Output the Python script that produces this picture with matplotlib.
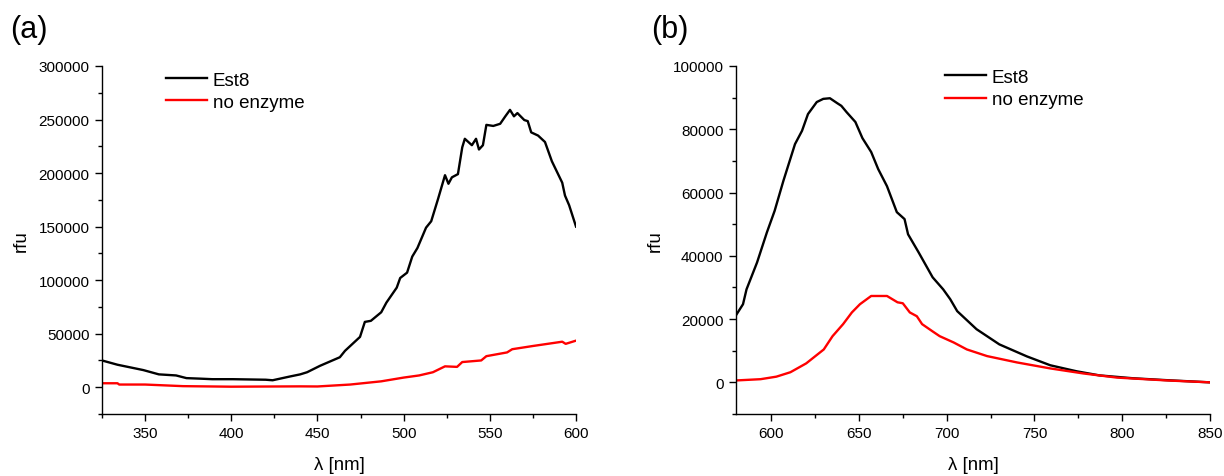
import numpy as np
import matplotlib.pyplot as plt
from matplotlib.ticker import MultipleLocator

plt.rcParams['font.family'] = ['Liberation Sans', 'DejaVu Sans']

# panel (a) spectra
a_est8_x = [325, 334, 349, 358, 368, 374, 382, 389, 401, 420, 424, 434, 440, 444, 451.5,
            463, 466, 474.7, 477.5, 481, 487, 490, 496, 498, 502, 505, 508, 513, 516, 520,
            524, 526, 528, 531.5, 534, 535.5, 539.6, 542, 543.7, 546, 548, 552, 556, 559,
            561.7, 564, 566, 570, 572, 574, 578, 582, 586, 592, 593.6, 596, 600]
a_est8_y = [25000, 21000, 16000, 12000, 11000, 8500, 8000, 7500, 7500, 7000, 6500, 10000,
            12000, 14000, 20000, 28000, 34000, 47000, 61000, 62000, 70000, 79000, 93000,
            102000, 107000, 122000, 130000, 149000, 155000, 176000, 198000, 190000, 196000,
            199000, 224000, 232000, 226000, 232000, 222000, 226000, 245000, 244000, 246000,
            253000, 259000, 253000, 256000, 249500, 248500, 238000, 235000, 229000, 211000,
            191000, 179000, 170000, 150000]
a_noenz_x = [325, 334, 335, 350, 372, 400, 440, 450, 469, 487, 500, 509, 517, 524, 531,
             534, 545, 548, 560, 563, 575, 592, 594, 600]
a_noenz_y = [3700, 3700, 2500, 2500, 1000, 500, 800, 700, 2500, 5500, 9000, 11000, 14000,
             19500, 19000, 23500, 25000, 29000, 32500, 35500, 38500, 42500, 40500, 43500]

# panel (b) spectra
b_est8_x = [580, 584, 586, 592, 597.6, 602, 607, 613.6, 617.6, 621, 626, 629.7, 633.5,
            637.5, 640, 643, 648, 652, 657, 661, 666, 671.6, 676, 678, 684, 692, 698, 702,
            706, 717, 730, 745.7, 759, 774, 787, 806, 825, 850]
b_est8_y = [21200, 24700, 29400, 37900, 47400, 54200, 63700, 75300, 79500, 84800, 88600,
            89600, 89800, 88300, 87400, 85400, 82300, 77200, 72800, 67400, 62000, 53800,
            51600, 46800, 41100, 33200, 29400, 26300, 22500, 16800, 12000, 8200, 5400, 3500,
            2200, 1300, 700, 0]
b_noenz_x = [580, 594, 603, 611, 620, 630, 635, 641, 646, 650.6, 657, 666, 672, 675, 679,
             683, 686, 692, 696, 704, 711.5, 723, 740, 759, 778, 797, 825.5, 850]
b_noenz_y = [600, 1000, 1800, 3200, 6000, 10400, 14600, 18400, 22100, 24700, 27300, 27300,
             25300, 25000, 22100, 20900, 18400, 16100, 14600, 12600, 10400, 8300, 6300,
             4400, 2800, 1500, 600, 0]

fig = plt.figure(figsize=(12.24, 4.77), dpi=100)
ax1 = fig.add_axes([0.0833, 0.130, 0.3873, 0.7296])
ax2 = fig.add_axes([0.6013, 0.130, 0.3873, 0.7296])


def style(ax, xlim, ylim, xmaj, ymaj):
    ax.set_xlim(*xlim)
    ax.set_ylim(*ylim)
    ax.xaxis.set_major_locator(MultipleLocator(xmaj))
    ax.xaxis.set_minor_locator(MultipleLocator(xmaj / 2))
    ax.yaxis.set_major_locator(MultipleLocator(ymaj))
    ax.yaxis.set_minor_locator(MultipleLocator(ymaj / 2))
    ax.spines['top'].set_visible(False)
    ax.spines['right'].set_visible(False)
    for s in ['left', 'bottom']:
        ax.spines[s].set_linewidth(1.0)
    ax.tick_params(which='major', direction='out', length=5, width=1, labelsize=11, pad=4)
    ax.tick_params(which='minor', direction='out', length=3, width=1)
    ax.set_xlabel('λ [nm]', fontsize=13.4, labelpad=11)
    ax.set_ylabel('rfu', fontsize=13.4, labelpad=6)


leg_kw = dict(loc='upper left', frameon=False, fontsize=13.5, borderaxespad=0,
              borderpad=0, handlelength=2.2, handletextpad=0.3, labelspacing=0.28)

ax1.plot(a_est8_x, a_est8_y, color='black', lw=1.7, label='Est8')
ax1.plot(a_noenz_x, a_noenz_y, color='#ff0000', lw=1.7, label='no enzyme')
style(ax1, (325, 600), (-25000, 300000), 50, 50000)
ax1.set_yticks(np.arange(0, 300001, 50000))
ax1.legend(bbox_to_anchor=(0.135, 0.984), **leg_kw)

ax2.plot(b_est8_x, b_est8_y, color='black', lw=1.7, label='Est8')
ax2.plot(b_noenz_x, b_noenz_y, color='#ff0000', lw=1.7, label='no enzyme')
style(ax2, (580, 850), (-10000, 100000), 50, 20000)
ax2.set_xticks([600, 650, 700, 750, 800, 850])
ax2.set_yticks(np.arange(0, 100001, 20000))
ax2.legend(bbox_to_anchor=(0.441, 0.9925), **leg_kw)

fig.text(0.008, 0.937, '(a)', fontsize=22, va='center')
fig.text(0.532, 0.937, '(b)', fontsize=22, va='center')

fig.savefig('out.png', dpi=100)
